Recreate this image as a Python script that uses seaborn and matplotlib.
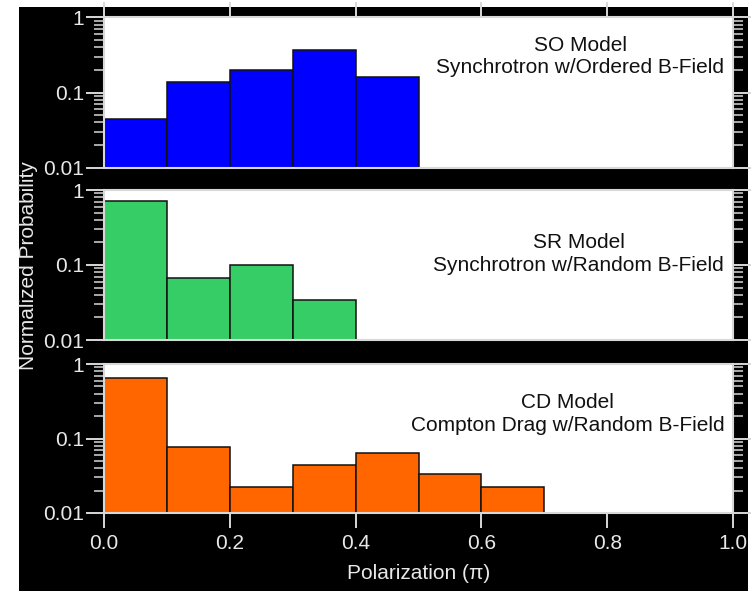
import numpy as np
import seaborn as sns
import matplotlib.pyplot as plt
from matplotlib.patches import Rectangle
from matplotlib.ticker import LogLocator, NullFormatter

# Binned polarization distributions (bin width 0.1)
bin_edges = [0.0, 0.1, 0.2, 0.3, 0.4, 0.5, 0.6, 0.7, 0.8, 0.9, 1.0]

so_centers = [0.05, 0.15, 0.25, 0.35, 0.45]
so_probs = [0.044, 0.139, 0.199, 0.367, 0.162]

sr_centers = [0.05, 0.15, 0.25, 0.35]
sr_probs = [0.72, 0.068, 0.100, 0.034]

cd_centers = [0.05, 0.15, 0.25, 0.35, 0.45, 0.55, 0.65]
cd_probs = [0.643, 0.077, 0.022, 0.044, 0.064, 0.033, 0.022]

panel_names = ["SO Model\nSynchrotron w/Ordered B-Field",
               "SR Model\nSynchrotron w/Random B-Field",
               "CD Model\nCompton Drag w/Random B-Field"]
panel_colors = ["#0000FF", "#36CC66", "#FF6600"]

sns.set_theme(style="ticks")
plt.rcParams['font.family'] = ['Liberation Sans', 'DejaVu Sans']

fig = plt.figure(figsize=(7.56, 5.91), dpi=100)
fig.patch.set_facecolor("white")
# black backdrop with a thin white margin on the left, top and right
fig.patches.append(Rectangle((19 / 756, 0), (748 - 19) / 756, (591 - 7) / 591,
                             transform=fig.transFigure, facecolor="black",
                             edgecolor="none", zorder=-5))

left, width = 104 / 756, 629 / 756
bottoms = [1 - 167.7 / 591, 1 - 340 / 591, 1 - 513 / 591]
heights = [150.4 / 591, 150 / 591, 149 / 591]
text_y = [0.739, 0.573, 0.664]

data = [(so_centers, so_probs), (sr_centers, sr_probs), (cd_centers, cd_probs)]
spine_col = "#d8d8d8"

axes = []
for i, ((cx, pv), name, col) in enumerate(zip(data, panel_names, panel_colors)):
    ax = fig.add_axes([left, bottoms[i], width, heights[i]])
    axes.append(ax)
    sns.histplot(x=cx, weights=pv, bins=bin_edges, ax=ax, color=col,
                 alpha=1, edgecolor="#111111", linewidth=1.1)
    ax.set_yscale("log")
    ax.set_ylim(0.01, 1)
    ax.set_xlim(0, 1)
    ax.set_facecolor("white")
    ax.set_ylabel("")
    ax.set_xlabel("")
    for s in ax.spines.values():
        s.set_visible(True)
        s.set_color(spine_col)
        s.set_linewidth(1.5)

    ax.set_yticks([0.01, 0.1, 1])
    ax.set_yticklabels(["0.01", "0.1", "1"])
    ax.yaxis.set_minor_locator(LogLocator(base=10, subs=np.arange(2, 10)))
    ax.yaxis.set_minor_formatter(NullFormatter())
    ax.tick_params(axis="y", which="major", direction="out", length=13, width=1.4,
                   color=spine_col, labelcolor="#e8e8e8", labelsize=15, pad=1.5,
                   left=True, right=True)
    ax.tick_params(axis="y", which="minor", direction="out", length=7, width=1.1,
                   color=spine_col, left=True, right=True)

    ax.set_xticks([0.0, 0.2, 0.4, 0.6, 0.8, 1.0])
    ax.set_xticklabels(["0.0", "0.2", "0.4", "0.6", "0.8", "1.0"])
    ax.tick_params(axis="x", which="major", direction="out", length=11, width=1.4,
                   color=spine_col, labelcolor="#e8e8e8", labelsize=15, pad=4,
                   bottom=(i == 2), top=(i == 0), labelbottom=(i == 2), labeltop=False)

    ax.text(0.986, text_y[i], name, transform=ax.transAxes, ha="right", va="center",
            multialignment="center", fontsize=15, color="#111111", linespacing=1.25)

axes[2].set_xlabel("Polarization (\u03c0)", color="#e8e8e8", fontsize=15)
axes[2].xaxis.set_label_coords(0.5, -0.403)
axes[2].xaxis.label.set_va("center")

fig.text(29 / 756, 1 - 266 / 591, "Normalized Probability", rotation=90,
         ha="center", va="center", color="#e8e8e8", fontsize=15)

fig.savefig("out.png", dpi=100, facecolor=fig.get_facecolor())
